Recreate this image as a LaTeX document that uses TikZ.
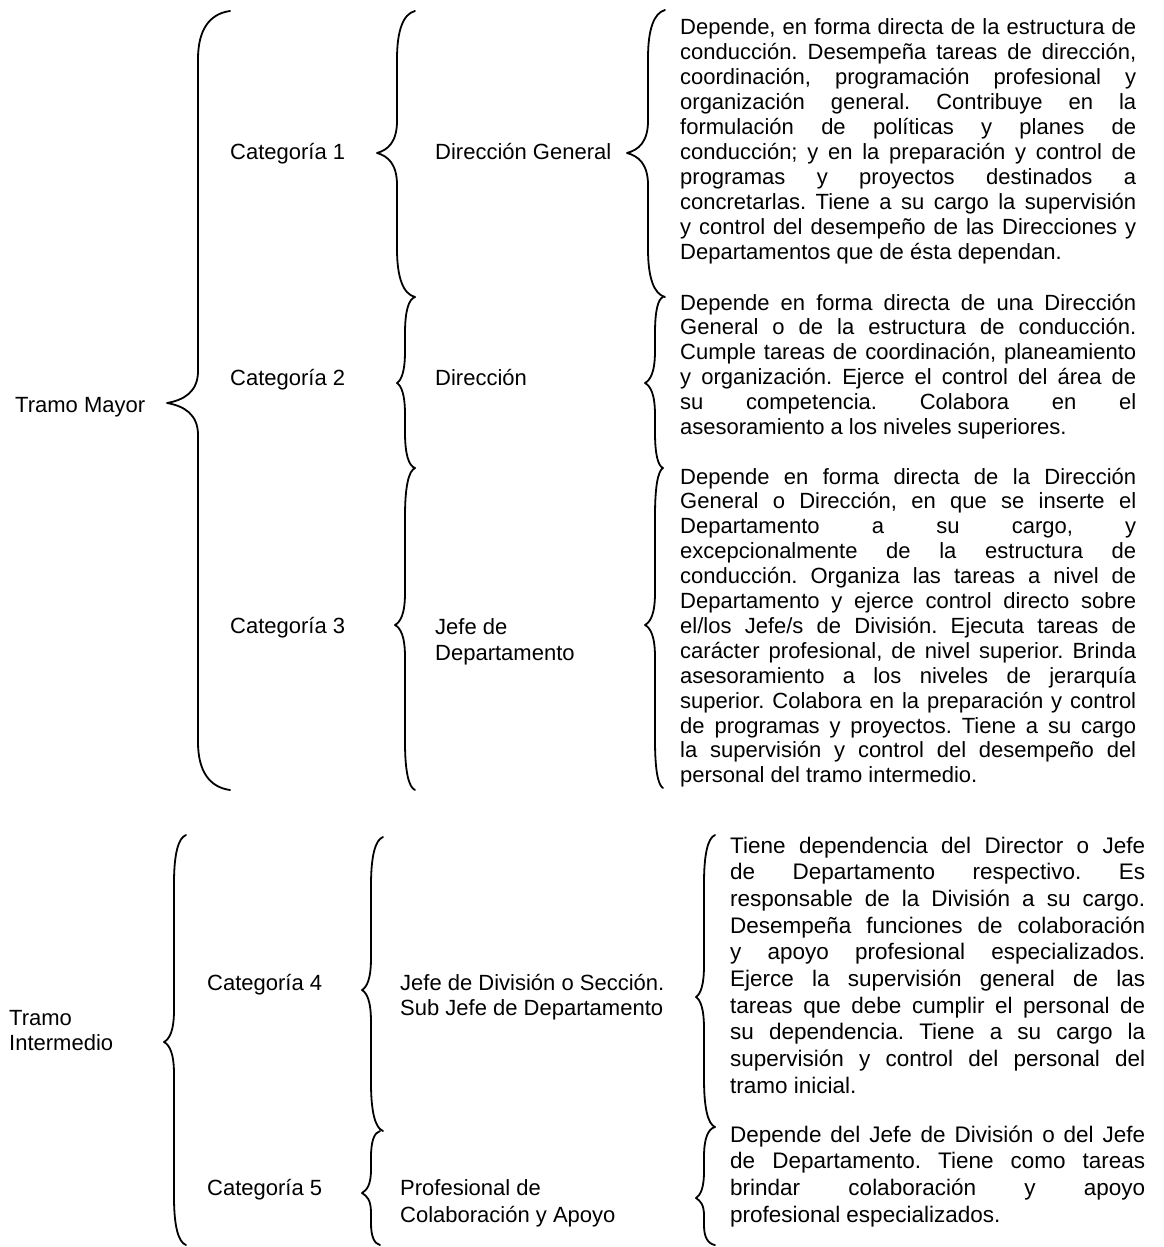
\documentclass[tikz,border=0pt]{standalone}
\usepackage{fontspec}
\setmainfont{Liberation Sans}
\newdimen\parW
\newcommand\jl[1]{\hbox to \parW{#1}}
\newcommand\nl[1]{\hbox{#1}}
\newcommand\mybrace[6]{% #1 x vertical, #2 x ends, #3 x tip, #4 y top, #5 y tip, #6 y bottom
  \pgfmathsetmacro\bA{min(48,0.42*(#5-#4))}%
  \pgfmathsetmacro\bB{min(32,0.38*(#5-#4))}%
  \pgfmathsetmacro\bC{min(32,0.38*(#6-#5))}%
  \pgfmathsetmacro\bD{min(48,0.42*(#6-#5))}%
  \draw[bracestyle] (#2,#4) .. controls ({#1+0.35*(#2-#1)},{#4+0.06*\bA}) and (#1,{#4+0.4*\bA}) .. (#1,{#4+\bA})
    -- (#1,{#5-\bB}) .. controls (#1,{#5-0.35*\bB}) and ({#3+0.55*(#1-#3)},{#5-3}) .. (#3,#5)
    .. controls ({#3+0.55*(#1-#3)},{#5+3}) and (#1,{#5+0.35*\bC}) .. (#1,{#5+\bC})
    -- (#1,{#6-\bD}) .. controls (#1,{#6-0.4*\bD}) and ({#1+0.35*(#2-#1)},{#6-0.06*\bD}) .. (#2,#6);}
\hbadness=10000
\hfuzz=20pt
\begin{document}
\begin{tikzpicture}[x=1pt,y=-1pt,
  bracestyle/.style={line width=1.8pt, line cap=round, line join=round},
  txt/.style={inner sep=0pt, anchor=base west, font=\fontsize{22}{26}\selectfont},
  ptop/.style={inner sep=0pt, anchor=base west, font=\fontsize{22}{24.9}\selectfont},
  pbot/.style={inner sep=0pt, anchor=base west, font=\fontsize{22.5}{26.7}\selectfont}]
\useasboundingbox (0,0) rectangle (1164,1247);
\frenchspacing
% ---------- Tramo Mayor ----------
\node[txt] (tm) at (15,412) {Tramo Mayor};
\node[txt] (c1) at (230,159) {Categoría 1};
\node[txt] (c2) at (230,385) {Categoría 2};
\node[txt] (c3) at (230,633) {Categoría 3};
\node[txt] (dg) at (435,159) {Dirección General};
\node[txt] (di) at (435,385) {Dirección};
\node[txt] (jd) at (435,634) {\vtop{\baselineskip=26pt\nl{Jefe de}\nl{Departamento}}};

\node[ptop] (p1) at (680,35) {\parW=456pt\vtop{\baselineskip=24.9pt
\jl{Depende, en forma directa de la estructura de}
\jl{conducción. Desempeña tareas de dirección,}
\jl{coordinación, programación profesional y}
\jl{organización general. Contribuye en la}
\jl{formulación de políticas y planes de}
\jl{conducción; y en la preparación y control de}
\jl{programas y proyectos destinados a}
\jl{concretarlas. Tiene a su cargo la supervisión}
\jl{y control del desempeño de las Direcciones y}
\nl{Departamentos que de ésta dependan.}}};

\node[ptop] (p2) at (680,310) {\parW=456pt\vtop{\baselineskip=24.9pt
\jl{Depende en forma directa de una Dirección}
\jl{General o de la estructura de conducción.}
\jl{Cumple tareas de coordinación, planeamiento}
\jl{y organización. Ejerce el control del área de}
\jl{su competencia. Colabora en el}
\nl{asesoramiento a los niveles superiores.}}};

\node[ptop] (p3) at (680,484) {\parW=456pt\vtop{\baselineskip=24.9pt
\jl{Depende en forma directa de la Dirección}
\jl{General o Dirección, en que se inserte el}
\jl{Departamento a su cargo, y}
\jl{excepcionalmente de la estructura de}
\jl{conducción. Organiza las tareas a nivel de}
\jl{Departamento y ejerce control directo sobre}
\jl{el/los Jefe/s de División. Ejecuta tareas de}
\jl{carácter profesional, de nivel superior. Brinda}
\jl{asesoramiento a los niveles de jerarquía}
\jl{superior. Colabora en la preparación y control}
\jl{de programas y proyectos. Tiene a su cargo}
\jl{la supervisión y control del desempeño del}
\nl{personal del tramo intermedio.}}};

\mybrace{198}{230}{167}{11}{403}{790}
\mybrace{397}{415}{377}{11}{153}{297}
\mybrace{405}{415}{397}{297}{383}{468}
\mybrace{405}{415}{395}{468}{625}{790}
\mybrace{648}{665}{627}{10}{153}{297}
\mybrace{655}{663}{645}{297}{383}{468}
\mybrace{655}{663}{645}{468}{625}{788}

% ---------- Tramo Intermedio ----------
\node[txt] (ti) at (9,1025) {\vtop{\baselineskip=25pt\nl{Tramo}\nl{Intermedio}}};
\node[txt] (c4) at (207,990) {Categoría 4};
\node[txt] (c5) at (207,1195) {Categoría 5};
\node[txt] (jds) at (400,990) {\vtop{\baselineskip=25pt\nl{Jefe de División o Sección.}\nl{Sub Jefe de Departamento}}};
\node[txt] (pca) at (400,1195) {\vtop{\baselineskip=27pt\nl{Profesional de}\nl{Colaboración y Apoyo}}};

\node[pbot] (p4) at (730,853) {\parW=415pt\vtop{\baselineskip=26.7pt
\jl{Tiene dependencia del Director o Jefe}
\jl{de Departamento respectivo. Es}
\jl{responsable de la División a su cargo.}
\jl{Desempeña funciones de colaboración}
\jl{y apoyo profesional especializados.}
\jl{Ejerce la supervisión general de las}
\jl{tareas que debe cumplir el personal de}
\jl{su dependencia. Tiene a su cargo la}
\jl{supervisión y control del personal del}
\nl{tramo inicial.}}};

\node[pbot] (p5) at (730,1142) {\parW=415pt\vtop{\baselineskip=26.7pt
\jl{Depende del Jefe de División o del Jefe}
\jl{de Departamento. Tiene como tareas}
\jl{brindar colaboración y apoyo}
\nl{profesional especializados.}}};

\mybrace{174}{186}{164}{835}{1042}{1245}
\mybrace{371}{383}{362}{837}{990}{1131}
\mybrace{371}{380}{362}{1131}{1193}{1245}
\mybrace{704}{715}{696}{835}{997}{1127}
\mybrace{704}{715}{696}{1127}{1198}{1245}
\end{tikzpicture}
\end{document}
